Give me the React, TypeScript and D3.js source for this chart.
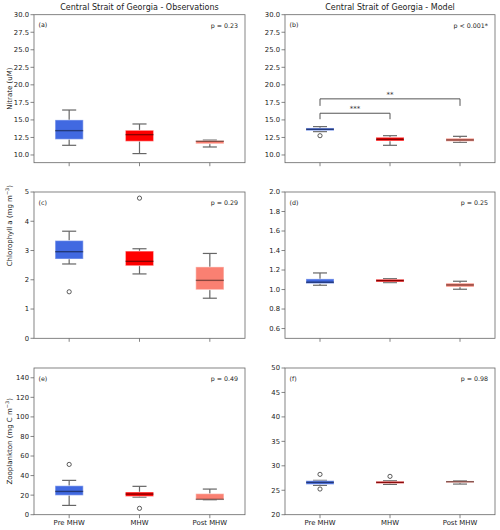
import * as d3 from 'd3';

const categories = ['Pre MHW', 'MHW', 'Post MHW'];
const boxColors = ['#4169e1', '#ff0000', '#fa8072'];
const titles = ['Central Strait of Georgia - Observations', 'Central Strait of Georgia - Model'];

// box stats per category: [lower whisker, q1, median, q3, upper whisker]
const nitrateObs = [
    [11.38, 12.23, 13.47, 15.0, 16.41],
    [10.2, 11.95, 12.9, 13.52, 14.42],
    [11.14, 11.6, 11.95, 12.05, 12.12],
];
const nitrateObsOutliers: number[][] = [[], [], []];
const nitrateModel = [
    [13.33, 13.47, 13.66, 13.85, 14.04],
    [11.38, 12.0, 12.23, 12.52, 12.75],
    [11.81, 11.95, 12.14, 12.38, 12.66],
];
const nitrateModelOutliers = [[12.75], [], []];

const chlObs = [
    [2.54, 2.71, 2.96, 3.34, 3.66],
    [2.2, 2.48, 2.63, 2.98, 3.06],
    [1.37, 1.66, 1.98, 2.44, 2.9],
];
const chlObsOutliers = [[1.59], [4.79], []];
const chlModel = [
    [1.044, 1.061, 1.075, 1.109, 1.17],
    [1.071, 1.078, 1.092, 1.105, 1.112],
    [1.003, 1.027, 1.047, 1.065, 1.085],
];
const chlModelOutliers: number[][] = [[], [], []];

const zooObs = [
    [9.5, 19.8, 23.8, 29.6, 35.1],
    [18.0, 18.7, 21.1, 23.2, 29.0],
    [15.3, 15.4, 15.7, 21.5, 26.2],
];
const zooObsOutliers = [[51.4], [6.5], []];
const zooModel = [
    [26.0, 26.2, 26.6, 26.95, 27.02],
    [26.2, 26.4, 26.6, 26.82, 26.95],
    [26.27, 26.55, 26.75, 26.9, 26.95],
];
const zooModelOutliers = [[28.25, 25.25], [27.84], []];

const pValues = ['p = 0.23', 'p < 0.001*', 'p = 0.29', 'p = 0.25', 'p = 0.49', 'p = 0.98'];
const panelLabels = ['(a)', '(b)', '(c)', '(d)', '(e)', '(f)'];

// significance brackets in panel (b): [from, to, line level, leg bottom, stars]
const modelBrackets: [number, number, number, number, string][] = [
    [1, 2, 15.95, 15.1, '***'],
    [1, 3, 18.0, 17.0, '**'],
];

const nitrateTicks = [10, 12.5, 15, 17.5, 20, 22.5, 25, 27.5, 30];
const chlObsTicks = [0, 1, 2, 3, 4, 5];
const chlModelTicks = [0.6, 0.8, 1.0, 1.2, 1.4, 1.6, 1.8, 2.0];
const zooObsTicks = [0, 20, 40, 60, 80, 100, 120, 140];
const zooModelTicks = [20, 25, 30, 35, 40, 45, 50];

const FONT = 'DejaVu Sans';
const AXIS = '#666';

const cols = [[34, 245], [285, 495]];
const rows = [[14.7, 162.7], [192, 338.3], [368, 514.7]];

type PanelDef = {
    stats: number[][];
    outliers: number[][];
    domain: [number, number];
    ticks: number[];
    fmt: (d: number) => string;
    yLabel?: 'nitrate' | 'chl' | 'zoo';
    brackets?: [number, number, number, number, string][];
};

const panels: PanelDef[] = [
    { stats: nitrateObs, outliers: nitrateObsOutliers, domain: [8.9, 30], ticks: nitrateTicks, fmt: d3.format('.1f'), yLabel: 'nitrate' },
    { stats: nitrateModel, outliers: nitrateModelOutliers, domain: [8.9, 30], ticks: nitrateTicks, fmt: d3.format('.1f'), brackets: modelBrackets },
    { stats: chlObs, outliers: chlObsOutliers, domain: [0, 5], ticks: chlObsTicks, fmt: d3.format('d'), yLabel: 'chl' },
    { stats: chlModel, outliers: chlModelOutliers, domain: [0.5, 2.0], ticks: chlModelTicks, fmt: d3.format('.1f') },
    { stats: zooObs, outliers: zooObsOutliers, domain: [0, 150], ticks: zooObsTicks, fmt: d3.format('d'), yLabel: 'zoo' },
    { stats: zooModel, outliers: zooModelOutliers, domain: [20, 50], ticks: zooModelTicks, fmt: d3.format('d') },
];

function YLabel({ kind, x, y }: { kind: string; x: number; y: number }) {
    const common = {
        transform: `translate(${x},${y}) rotate(-90)`,
        textAnchor: 'middle' as const,
        fontSize: 7,
        fontFamily: FONT,
        fill: '#222',
    };
    if (kind === 'nitrate') return <text {...common}>Nitrate (uM)</text>;
    const prefix = kind === 'chl' ? 'Chlorophyll a (mg m' : 'Zooplankton (mg C m';
    return (
        <text {...common}>
            {prefix}
            <tspan fontSize={5} dy={-3}>−3</tspan>
            <tspan dy={3}>)</tspan>
        </text>
    );
}

function Panel({ def, index }: { def: PanelDef; index: number }) {
    const col = index % 2;
    const row = Math.floor(index / 2);
    const [x0, x1] = cols[col];
    const [top, bottom] = rows[row];

    const x = d3.scaleLinear().domain([0.5, 3.5]).range([x0, x1]);
    const y = d3.scaleLinear().domain(def.domain).range([bottom, top]);
    const unit = x(1) - x(0);
    const boxW = unit * 0.4;
    const capW = unit * 0.2;

    // the chlorophyll label sits higher than the axis centre
    const labelY = def.yLabel === 'chl' ? y(3.85) : (top + bottom) / 2;

    return (
        <g>
            {row === 0 && (
                <text x={(x0 + x1) / 2} y={10.3} textAnchor="middle" fontSize={8} fontFamily={FONT} fill="#222">
                    {titles[col]}
                </text>
            )}
            {def.yLabel && <YLabel kind={def.yLabel} x={11.5} y={labelY} />}

            {/* y axis ticks */}
            {def.ticks.map(t => (
                <g key={t}>
                    <line x1={x0 - 3.5} x2={x0} y1={y(t)} y2={y(t)} stroke={AXIS} strokeWidth={0.8} />
                    <text x={x0 - 5} y={y(t) + 2.4} textAnchor="end" fontSize={6.8} fontFamily={FONT} fill="#222">
                        {def.fmt(t)}
                    </text>
                </g>
            ))}

            {/* x axis ticks */}
            {categories.map((c, i) => (
                <g key={c}>
                    <line x1={x(i + 1)} x2={x(i + 1)} y1={bottom} y2={bottom + 3.5} stroke={AXIS} strokeWidth={0.8} />
                    {row === 2 && (
                        <text x={x(i + 1)} y={bottom + 10} textAnchor="middle" fontSize={6.9} fontFamily={FONT} fill="#222">
                            {c}
                        </text>
                    )}
                </g>
            ))}

            {/* boxes */}
            {def.stats.map((s, i) => {
                const cx = x(i + 1);
                const [lo, q1, med, q3, hi] = s;
                return (
                    <g key={i}>
                        <line x1={cx} x2={cx} y1={y(q3)} y2={y(hi)} stroke="#666" strokeWidth={1.2} />
                        <line x1={cx} x2={cx} y1={y(q1)} y2={y(lo)} stroke="#666" strokeWidth={1.2} />
                        <line x1={cx - capW / 2} x2={cx + capW / 2} y1={y(hi)} y2={y(hi)} stroke="#666" strokeWidth={1.2} />
                        <line x1={cx - capW / 2} x2={cx + capW / 2} y1={y(lo)} y2={y(lo)} stroke="#666" strokeWidth={1.2} />
                        <rect x={cx - boxW / 2} y={y(q3)} width={boxW} height={Math.max(0.5, y(q1) - y(q3))} fill={boxColors[i]} />
                        <rect x={cx - boxW / 2} y={y(q3)} width={boxW} height={Math.max(0.5, y(q1) - y(q3))} fill="none" stroke="#fff" strokeOpacity={0.4} strokeWidth={1.2} />
                        <line x1={cx - boxW / 2} x2={cx + boxW / 2} y1={y(med)} y2={y(med)} stroke="#000" strokeOpacity={0.45} strokeWidth={1.4} />
                        {def.outliers[i].map((o, k) => (
                            <circle key={k} cx={cx} cy={y(o)} r={2.1} fill="none" stroke="#333" strokeWidth={0.8} />
                        ))}
                    </g>
                );
            })}

            {/* significance brackets */}
            {def.brackets?.map(([a, b, lvl, leg, stars]) => (
                <g key={stars}>
                    <path
                        d={`M${x(a)},${y(leg)}V${y(lvl)}H${x(b)}V${y(leg)}`}
                        fill="none"
                        stroke="#555"
                        strokeWidth={1}
                    />
                    <text x={(x(a) + x(b)) / 2} y={y(lvl) - 2} textAnchor="middle" fontSize={7} fontFamily={FONT} fill="#333">
                        {stars}
                    </text>
                </g>
            ))}

            <text x={x0 + 4.5} y={top + 12.5} fontSize={6.3} fontFamily={FONT} fill="#222">
                {panelLabels[index]}
            </text>
            <text x={x1 - 7} y={top + 13} textAnchor="end" fontSize={6.3} fontFamily={FONT} fill="#222">
                {pValues[index]}
            </text>

            <rect x={x0} y={top} width={x1 - x0} height={bottom - top} fill="none" stroke={AXIS} strokeWidth={0.8} />
        </g>
    );
}

export default function App() {
    return (
        <svg
            width={500}
            height={530}
            style={{ position: 'absolute', left: 0, top: 0, background: '#fff' }}
        >
            {panels.map((p, i) => (
                <Panel key={i} def={p} index={i} />
            ))}
        </svg>
    );
}
